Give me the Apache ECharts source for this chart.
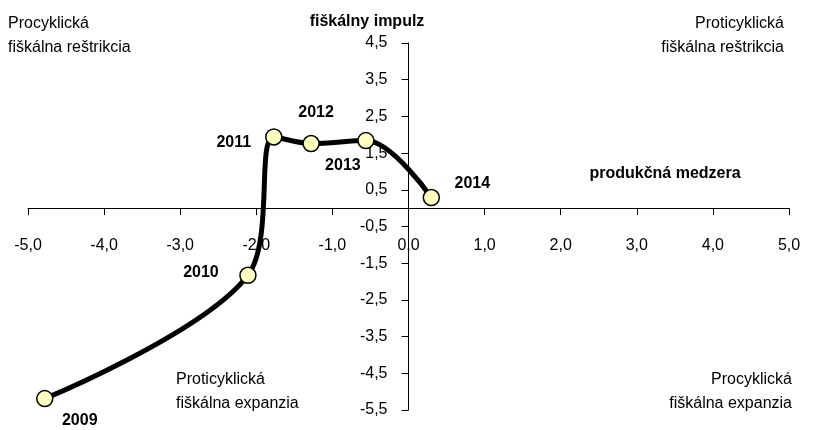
<!DOCTYPE html>
<html>
<head>
<meta charset="utf-8">
<script src="https://cdn.jsdelivr.net/npm/echarts@6/dist/echarts.min.js"></script>
<style>
  html, body { margin: 0; padding: 0; background: #fff; }
  #chart { width: 819px; height: 430px; }
</style>
</head>
<body>
<div id="chart"></div>
<script>
// roky a hodnoty (produkčná medzera, fiškálny impulz)
var years = ["2009", "2010", "2011", "2012", "2013", "2014"];
var outputGap = [-4.78, -2.11, -1.77, -1.28, -0.56, 0.3];
var fiscalImpulse = [-5.19, -1.83, 1.94, 1.76, 1.84, 0.29];

// posun popiskov rokov voči bodu
var labelOffsets = [[35, 22], [-47, -3], [-40, 6], [5, -31], [-23, 25], [41, -14]];

(function () {
  var myechart = echarts.init(document.getElementById("chart"));
  var font = "Liberation Sans, Arial, sans-serif";
  var fmt = function (v) {
    return v.toFixed(1).replace(".", ",");
  };

  // rozmery plochy grafu
  var W = 819, H = 430;
  var gl = 28, gr = 30, gt = 43, gb = 20;
  var xMin = -5, xMax = 5, yMin = -5.5, yMax = 4.5;
  // osi sa krizuju v nule
  var xAxisOffset = -((H - gt - gb) * (0 - yMin) / (yMax - yMin));
  var yAxisOffset = -((W - gl - gr) * (0 - xMin) / (xMax - xMin));

  var points = years.map(function (y, i) {
    return {
      value: [outputGap[i], fiscalImpulse[i]],
      label: { offset: labelOffsets[i] },
    };
  });

  var option = {
    animation: false,
    textStyle: { fontFamily: font },
    grid: { left: gl, right: gr, top: gt, bottom: gb, containLabel: false, outerBoundsMode: "none" },
    xAxis: {
      type: "value",
      min: xMin,
      max: xMax,
      interval: 1,
      offset: xAxisOffset,
      splitLine: { show: false },
      axisLine: { onZero: false, lineStyle: { color: "#000", width: 1 } },
      axisTick: { length: 7, lineStyle: { color: "#000" } },
      axisLabel: { margin: 29, color: "#000", fontSize: 16, formatter: fmt, hideOverlap: false, showMinLabel: true, showMaxLabel: true },
    },
    yAxis: {
      type: "value",
      min: yMin,
      max: yMax,
      interval: 1,
      offset: yAxisOffset,
      splitLine: { show: false },
      axisLine: { onZero: false, lineStyle: { color: "#000", width: 1 } },
      axisTick: { length: 7, lineStyle: { color: "#000" } },
      axisLabel: { margin: 21, color: "#000", fontSize: 16, formatter: fmt, hideOverlap: false, showMinLabel: true, showMaxLabel: true },
    },
    series: [
      {
        type: "line",
        smooth: 0.35,
        symbol: "circle",
        symbolSize: 16,
        lineStyle: { color: "#000", width: 5 },
        itemStyle: { color: "#ffffc0", borderColor: "#000", borderWidth: 1.5 },
        label: {
          show: true,
          position: "inside",
          formatter: function (p) {
            return years[p.dataIndex];
          },
          color: "#000",
          fontWeight: "bold",
          fontSize: 16,
          fontFamily: font,
        },
        z: 5,
        data: points,
      },
    ],
    graphic: [
      {
        type: "text", x: 8, y: 12,
        style: { text: "Procyklická\nfiškálna reštrikcia", font: "16px " + font, fill: "#000", lineHeight: 24 },
      },
      {
        type: "text", x: 367, y: 14,
        style: { text: "fiškálny impulz", font: "bold 16px " + font, fill: "#000", align: "center" },
      },
      {
        type: "text", x: 784, y: 12,
        style: { text: "Proticyklická\nfiškálna reštrikcia", font: "16px " + font, fill: "#000", lineHeight: 24, align: "right" },
      },
      {
        type: "text", x: 665, y: 166,
        style: { text: "produkčná medzera", font: "bold 16px " + font, fill: "#000", align: "center" },
      },
      {
        type: "text", x: 176, y: 368,
        style: { text: "Proticyklická\nfiškálna expanzia", font: "16px " + font, fill: "#000", lineHeight: 24 },
      },
      {
        type: "text", x: 792, y: 368,
        style: { text: "Procyklická\nfiškálna expanzia", font: "16px " + font, fill: "#000", lineHeight: 24, align: "right" },
      },
    ],
  };

  myechart.setOption(option);
  window.addEventListener("resize", function () {
    myechart.resize();
  });
})();
</script>
</body>
</html>
